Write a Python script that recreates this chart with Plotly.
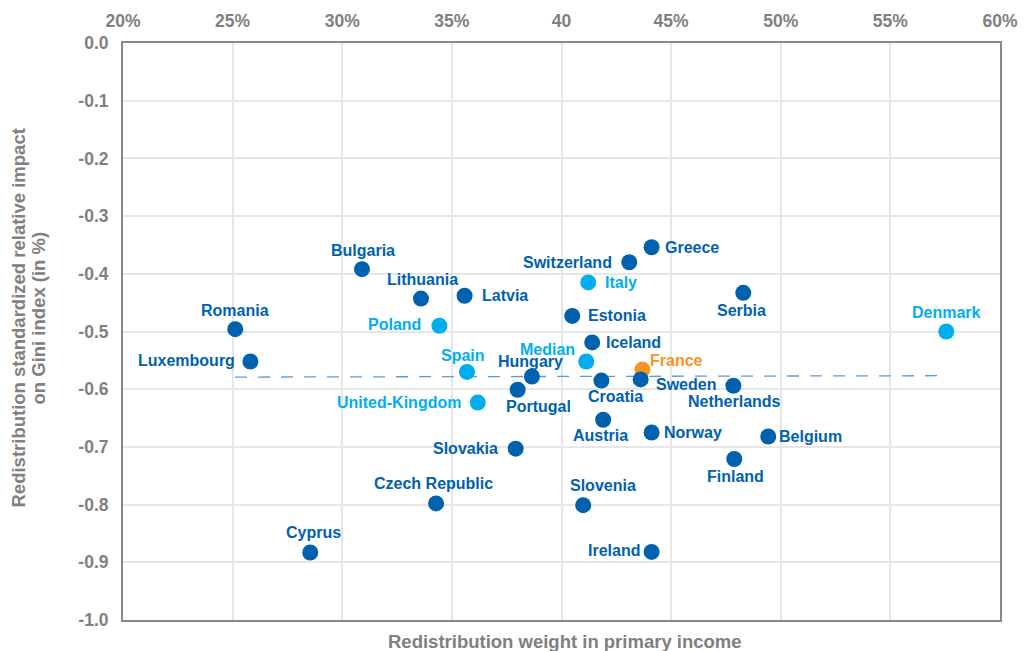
import plotly.graph_objects as go

countries = ["Romania", "Luxembourg", "Bulgaria", "Lithuania", "Latvia", "Poland", "Spain",
             "United-Kingdom", "Hungary", "Portugal", "Slovakia", "Czech Republic", "Cyprus",
             "Estonia", "Switzerland", "Greece", "Italy", "Iceland", "Median", "France",
             "Croatia", "Sweden", "Netherlands", "Serbia", "Denmark", "Austria", "Norway",
             "Belgium", "Finland", "Slovenia", "Ireland"]
weight = [25.12, 25.81, 30.90, 33.59, 35.58, 34.43, 35.69,
          36.18, 38.65, 38.00, 37.91, 34.28, 28.54,
          40.49, 43.09, 44.11, 41.22, 41.40, 41.13, 43.69,
          41.82, 43.61, 47.84, 48.29, 57.55, 41.90, 44.11,
          49.43, 47.88, 40.99, 44.11]
impact = [-0.496, -0.552, -0.392, -0.443, -0.438, -0.490, -0.570,
          -0.623, -0.578, -0.601, -0.703, -0.798, -0.883,
          -0.473, -0.380, -0.354, -0.415, -0.519, -0.552, -0.566,
          -0.585, -0.583, -0.594, -0.433, -0.500, -0.653, -0.675,
          -0.682, -0.721, -0.801, -0.882]
group = ["dark", "dark", "dark", "dark", "dark", "light", "light",
         "light", "dark", "dark", "dark", "dark", "dark",
         "dark", "dark", "dark", "light", "dark", "light", "france",
         "dark", "dark", "dark", "dark", "light", "dark", "dark",
         "dark", "dark", "dark", "dark"]
trend_x = [25.11, 57.55]
trend_y = [-0.579, -0.5766]

x_ticks = [20, 25, 30, 35, 40, 45, 50, 55, 60]
x_ticktext = ["20%", "25%", "30%", "35%", "40", "45%", "50%", "55%", "60%"]
y_ticks = [0, -0.1, -0.2, -0.3, -0.4, -0.5, -0.6, -0.7, -0.8, -0.9, -1.0]
y_ticktext = ["0.0", "-0.1", "-0.2", "-0.3", "-0.4", "-0.5", "-0.6", "-0.7", "-0.8", "-0.9", "-1.0"]
y_title_lines = ["Redistribution standardized relative impact", "on Gini index (in %)"]
x_title = "Redistribution weight in primary income"

palette = {"dark": "#0061AF", "light": "#00AEEF", "france": "#F7941D"}
# label placement style: (anchor side, x offset px, y offset px downward)
label_style = {
    "Romania": ("center", 0, -19), "Luxembourg": ("right", -14, -1),
    "Bulgaria": ("center", 1, -19), "Lithuania": ("center", 1.5, -19),
    "Latvia": ("left", 16, 0), "Poland": ("right", -17.5, -1.5),
    "Spain": ("center", -4, -16), "United-Kingdom": ("right", -16, 0),
    "Hungary": ("center", -1.5, -15), "Portugal": ("center", 21, 16.5),
    "Slovakia": ("right", -17, 0), "Czech Republic": ("center", -2.5, -20),
    "Cyprus": ("center", 3.5, -19.5), "Estonia": ("left", 15, 0),
    "Switzerland": ("right", -16, 0), "Greece": ("left", 12, 0),
    "Italy": ("left", 16, 0), "Iceland": ("left", 13, 0),
    "Median": ("right", -10.5, -12.5), "France": ("left", 6.5, -9.5),
    "Croatia": ("center", 14.5, 16), "Sweden": ("left", 14.5, 5.5),
    "Netherlands": ("center", 1, 15.5), "Serbia": ("center", -1.5, 18),
    "Denmark": ("center", 0.5, -19), "Austria": ("center", -3, 16),
    "Norway": ("left", 11.5, 0.5), "Belgium": ("left", 10, -0.5),
    "Finland": ("center", 1.5, 17.5), "Slovenia": ("center", 20, -19.5),
    "Ireland": ("right", -11, -1),
}

colors = [palette[g] for g in group]
FONT = "Liberation Sans, Arial, sans-serif"
GREY = "#808080"

fig = go.Figure()
fig.add_trace(go.Scatter(
    x=trend_x, y=trend_y, mode="lines",
    line=dict(color="#5B9BD5", width=1.3, dash="12px,11px"),
    hoverinfo="skip", showlegend=False,
))
fig.add_trace(go.Scatter(
    x=weight, y=impact, mode="markers",
    marker=dict(size=16, color=colors),
    text=countries, showlegend=False,
))

annotations = []
for name, xv, yv, col in zip(countries, weight, impact, colors):
    anchor, dx, dy = label_style[name]
    annotations.append(dict(
        x=xv, y=yv, xref="x", yref="y", text=name, showarrow=False,
        xanchor=anchor, yanchor="middle", xshift=dx, yshift=-dy, borderpad=0,
        font=dict(family=FONT, size=16, color=col, weight="bold"),
    ))

axis_font = dict(family=FONT, size=17.5, color=GREY, weight="bold")
title_font = dict(family=FONT, size=18.5, color=GREY, weight="bold")

annotations.append(dict(
    text=x_title, xref="paper", yref="paper",
    x=0.5, y=0, xshift=3, yshift=-21, showarrow=False, yanchor="middle",
    font=title_font,
))
for line, xs in zip(y_title_lines, [-105, -85]):
    annotations.append(dict(
        text=line, xref="paper", yref="paper", x=0, y=0.5, xshift=xs, yshift=13,
        textangle=-90, showarrow=False, xanchor="center", yanchor="middle",
        font=title_font,
    ))

fig.update_layout(
    width=1021, height=643,
    margin=dict(l=115, r=29, t=35, b=31),
    paper_bgcolor="white", plot_bgcolor="white",
    xaxis=dict(
        range=[20, 60], side="top", tickvals=x_ticks, ticktext=x_ticktext,
        tickfont=axis_font, showgrid=True, gridcolor="#E6E6E6", gridwidth=1.5,
        showline=True, linecolor="#898989", linewidth=2, mirror=True,
        ticks="outside", ticklen=7, tickcolor="rgba(0,0,0,0)", zeroline=False,
        automargin=False,
    ),
    yaxis=dict(
        range=[-1.0, 0.0], tickvals=y_ticks, ticktext=y_ticktext,
        tickfont=axis_font, showgrid=True, gridcolor="#E6E6E6", gridwidth=1.5,
        showline=True, linecolor="#898989", linewidth=2, mirror=True,
        ticks="outside", ticklen=9, tickcolor="rgba(0,0,0,0)", zeroline=False,
        automargin=False,
    ),
    annotations=annotations,
)

fig.write_html("out.html")
